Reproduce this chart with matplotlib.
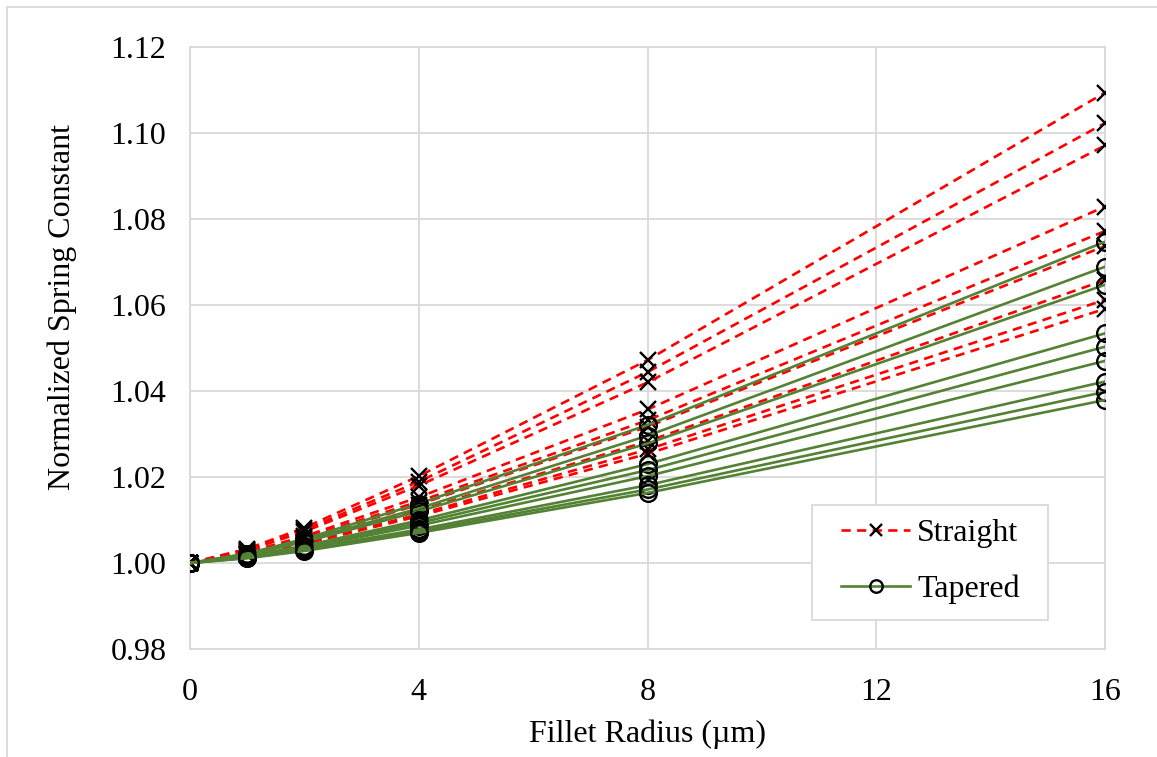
import matplotlib
matplotlib.use("Agg")
import matplotlib.pyplot as plt
from matplotlib.lines import Line2D
from matplotlib.patches import Rectangle

# Fillet radius sweep (µm)
fillet_radius = [0, 1, 2, 4, 8, 16]

# Normalized spring constant, straight beams (one list per geometry)
straight = [
    [1.0000, 1.0033, 1.0082, 1.0202, 1.0472, 1.1094],
    [1.0000, 1.0031, 1.0077, 1.0189, 1.0444, 1.1023],
    [1.0000, 1.0029, 1.0073, 1.0180, 1.0420, 1.0971],
    [1.0000, 1.0025, 1.0062, 1.0153, 1.0357, 1.0829],
    [1.0000, 1.0023, 1.0058, 1.0143, 1.0332, 1.0772],
    [1.0000, 1.0022, 1.0055, 1.0136, 1.0317, 1.0737],
    [1.0000, 1.0020, 1.0049, 1.0122, 1.0283, 1.0658],
    [1.0000, 1.0018, 1.0046, 1.0113, 1.0264, 1.0612],
    [1.0000, 1.0018, 1.0044, 1.0109, 1.0254, 1.0591],
]

# Normalized spring constant, tapered beams
tapered = [
    [1.0000, 1.0022, 1.0056, 1.0138, 1.0321, 1.0747],
    [1.0000, 1.0021, 1.0052, 1.0127, 1.0296, 1.0689],
    [1.0000, 1.0019, 1.0049, 1.0120, 1.0278, 1.0647],
    [1.0000, 1.0016, 1.0040, 1.0099, 1.0230, 1.0534],
    [1.0000, 1.0015, 1.0038, 1.0093, 1.0216, 1.0503],
    [1.0000, 1.0014, 1.0035, 1.0087, 1.0202, 1.0470],
    [1.0000, 1.0013, 1.0032, 1.0078, 1.0181, 1.0422],
    [1.0000, 1.0012, 1.0030, 1.0074, 1.0171, 1.0398],
    [1.0000, 1.0011, 1.0028, 1.0070, 1.0163, 1.0379],
]

x_ticks = [0, 4, 8, 12, 16]
y_ticks = [0.98, 1.00, 1.02, 1.04, 1.06, 1.08, 1.10, 1.12]
series_names = ["Straight", "Tapered"]

plt.rcParams["font.family"] = ["Liberation Serif", "DejaVu Serif"]

RED = "#FF0000"
GREEN = "#548235"
GRID = "#D9D9D9"
FS = 23

W, H = 1157, 757
fig = plt.figure(figsize=(W / 100, H / 100), dpi=100)
fig.patches.append(Rectangle((7 / W, -0.01), 1.2, 1 - 7 / H + 0.01,
                             transform=fig.transFigure, fill=False,
                             edgecolor=GRID, linewidth=1.3, zorder=0))

x0, x1, y0, y1 = 190, 1105, 47, 649
ax = fig.add_axes([x0 / W, 1 - y1 / H, (x1 - x0) / W, (y1 - y0) / H])


def ax_frac(px, py):
    """Pixel position (from top-left) to axes fraction."""
    return (px - x0) / (x1 - x0), (y1 - py) / (y1 - y0)


dash = (0, (3.5, 2.4))
for ys in straight:
    ax.plot(fillet_radius, ys, color=RED, linestyle=dash, linewidth=1.9,
            marker="x", markersize=11, markeredgecolor="black",
            markeredgewidth=1.7, zorder=3)
for ys in tapered:
    ax.plot(fillet_radius, ys, color=GREEN, linestyle="-", linewidth=1.9,
            marker="o", markersize=12, markerfacecolor="none",
            markeredgecolor="black", markeredgewidth=1.7, zorder=3)

ax.set_xlim(0, 16)
ax.set_ylim(0.98, 1.12)
ax.set_xticks(x_ticks)
ax.set_yticks(y_ticks)
ax.set_yticklabels([f"{v:.2f}" for v in y_ticks])
ax.grid(True, color=GRID, linewidth=1.3, zorder=0)
ax.set_axisbelow(True)
for s in ax.spines.values():
    s.set_color(GRID)
    s.set_linewidth(1.3)
ax.tick_params(axis="both", length=0, labelsize=FS, colors="black")
ax.tick_params(axis="x", pad=21)
ax.tick_params(axis="y", pad=17)

ax.set_xlabel("Fillet Radius (µm)", fontsize=FS, labelpad=9)
ax.set_ylabel("Normalized Spring Constant", fontsize=FS)
ax.yaxis.set_label_coords(*ax_frac(77, 307))

# Legend: entries without frame, boxed by a separate rectangle
fx, fy = ax_frac(812, 620)
fw = (1048 - 812) / (x1 - x0)
fh = (620 - 505) / (y1 - y0)
ax.add_patch(Rectangle((fx, fy), fw, fh, transform=ax.transAxes,
                       facecolor="white", edgecolor=GRID, linewidth=1.3,
                       zorder=5))

handles = [
    Line2D([], [], color=RED, linestyle=dash, linewidth=1.9,
           marker="x", markersize=9, markeredgecolor="black", markeredgewidth=1.7),
    Line2D([], [], color=GREEN, linestyle="-", linewidth=1.9,
           marker="o", markersize=9, markerfacecolor="none",
           markeredgecolor="black", markeredgewidth=1.7),
]
leg = ax.legend(handles, series_names, loc="center left",
                bbox_to_anchor=ax_frac(841, 561.5),
                fontsize=FS, frameon=False, handlelength=(910 - 841) / (FS * 100 / 72),
                handletextpad=0.22, labelspacing=0.82, borderpad=0,
                borderaxespad=0)
leg.set_zorder(6)

fig.savefig("out.png", dpi=100)
